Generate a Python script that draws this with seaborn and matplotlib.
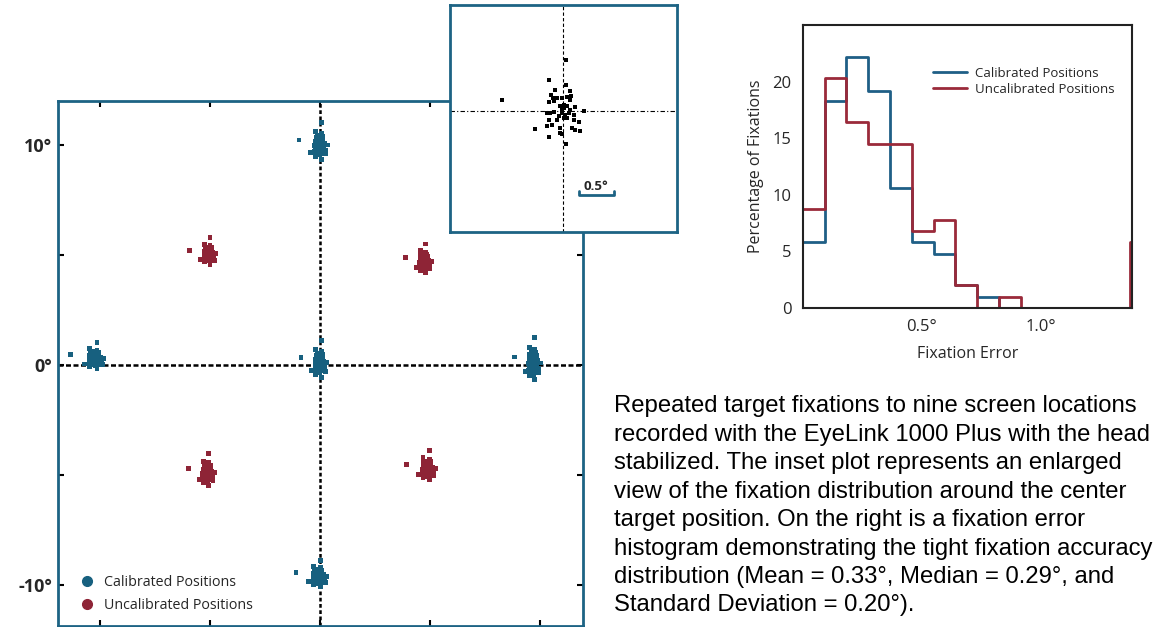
import numpy as np
import pandas as pd
import matplotlib
matplotlib.use("Agg")
import matplotlib.pyplot as plt
from matplotlib.lines import Line2D
import seaborn as sns

# fixation offsets around a target (deg)
off_x = [0.052, -0.200, 0.052, -0.105, 0.110, 0.119, -0.167, -0.138, -0.081, -0.010,
         0.062, -0.200, -0.129, -0.867, 0.014, 0.062, -0.010, 0.181, 0.300, -0.224,
         -0.176, -0.129, -0.010, 0.038, 0.086, 0.157, 0.014, 0.062, -0.200, -0.081,
         0.157, 0.229, -0.390, -0.224, -0.152, -0.033, 0.133, 0.181, 0.243, -0.033,
         -0.010, -0.200, 0.052, 0.024, -0.033, 0.100, -0.057, 0.110]
off_y = [0.719, 0.433, 0.371, 0.300, 0.276, 0.205, 0.229, 0.181, 0.181, 0.181,
         0.195, 0.119, 0.133, 0.157, 0.086, 0.062, 0.014, 0.052, -0.010, -0.033,
         -0.033, -0.024, -0.033, -0.057, -0.033, -0.057, -0.105, -0.105, -0.129, -0.129,
         -0.129, -0.167, -0.262, -0.224, -0.200, -0.248, -0.248, -0.271, -0.295, -0.310,
         -0.329, -0.376, -0.476, 0.038, 0.062, 0.157, -0.081, 0.014]

# cluster centres (deg) and spread of each cluster
clu_group = ["Calibrated Positions"] * 5 + ["Uncalibrated Positions"] * 4
clu_x = [0.0, -10.2, 0.0, 9.7, -0.05, -5.05, 4.75, -5.1, 4.9]
clu_y = [10.0, 0.3, 0.1, 0.1, -9.6, 5.05, 4.7, -4.9, -4.7]
clu_sx = [1.1, 1.3, 1.0, 1.0, 1.2, 1.0, 1.0, 1.0, 1.1]
clu_sy = [1.4, 1.0, 1.4, 1.6, 1.0, 1.0, 1.1, 1.2, 1.1]

# histogram of fixation error (percent per bin)
bin_edges = [0.0, 0.0915, 0.183, 0.2745, 0.366, 0.4575, 0.549, 0.6405, 0.732, 0.8235, 0.915,
             1.0065, 1.098, 1.1895, 1.281, 1.3725, 1.464]
calibrated_pct = [5.8, 18.3, 22.2, 19.2, 10.6, 5.8, 4.8, 2.0, 1.0, 0.0, 0, 0, 0, 0, 0, 0]
uncalibrated_pct = [8.7, 20.3, 16.4, 14.5, 14.5, 6.8, 7.8, 2.0, 0.0, 1.0, 0, 0, 0, 0, 0, 5.8]

caption = [
    "Repeated target fixations to nine screen locations",
    "recorded with the EyeLink 1000 Plus with the head",
    "stabilized. The inset plot represents an enlarged",
    "view of the fixation distribution around the center",
    "target position. On the right is a fixation error",
    "histogram demonstrating the tight fixation accuracy",
    "distribution (Mean = 0.33°, Median = 0.29°, and",
    "Standard Deviation = 0.20°).",
]

BLUE = "#17607f"
RED = "#8e2436"
SPINE = "#1d6384"

sns.set_theme(style="white")
plt.rcParams["font.family"] = ["Open Sans", "DejaVu Sans"]

rows = []
for g, cx, cy, sx, sy in zip(clu_group, clu_x, clu_y, clu_sx, clu_sy):
    for dx, dy in zip(off_x, off_y):
        rows.append((g, cx + dx * sx, cy + dy * sy))
pts = pd.DataFrame(rows, columns=["group", "x", "y"])

fig = plt.figure(figsize=(11.61, 6.27), dpi=100)

# main scatter
ax = fig.add_axes([0.0500, 0.002, 0.4522, 0.8373])
ax.axhline(0, color="black", lw=1.8, ls=(0, (2, 1)), zorder=1)
ax.axvline(0, color="black", lw=1.8, ls=(0, (1.5, 1)), zorder=1)
sns.scatterplot(data=pts, x="x", y="y", hue="group", palette=[BLUE, RED],
                marker="s", s=12, linewidth=0, legend=False, ax=ax, zorder=2)
ax.set_xlim(-11.9, 11.95)
ax.set_ylim(-11.86, 12.0)
ax.set_xticks([-10, -5, 0, 5, 10])
ax.set_xticklabels([])
ax.set_yticks([-10, -5, 0, 5, 10])
ax.set_yticklabels(["-10°", "", "0°", "", "10°"], fontweight="bold", fontsize=13)
ax.tick_params(direction="in", length=4, width=1.5, color="black",
               top=True, right=True, bottom=True, left=True, pad=4)
ax.set_xlabel("")
ax.set_ylabel("")
for s in ax.spines.values():
    s.set_color(SPINE)
    s.set_linewidth(2)
handles = [Line2D([], [], marker="o", ls="", color=BLUE, markersize=7),
           Line2D([], [], marker="o", ls="", color=RED, markersize=7)]
ax.legend(handles, ["Calibrated Positions", "Uncalibrated Positions"], loc="lower left",
          bbox_to_anchor=(0.004, 0.0), frameon=False, fontsize=10.3, handletextpad=0.2,
          labelspacing=0.55)

# inset
ins = fig.add_axes([0.3876, 0.630, 0.1955, 0.362])
ins.axhline(0, color="black", lw=0.8, ls=(0, (4, 2, 1, 2)), zorder=1)
ins.axvline(0, color="black", lw=0.8, ls=(0, (3, 2)), zorder=1)
sns.scatterplot(x=off_x, y=off_y, color="black", marker="s", s=9, linewidth=0,
                ax=ins, zorder=2)
ins.set_xlim(-1.61, 1.63)
ins.set_ylim(-1.73, 1.51)
ins.set_xticks([])
ins.set_yticks([])
for s in ins.spines.values():
    s.set_color(SPINE)
    s.set_linewidth(2)
ins.plot([0.229, 0.229, 0.729, 0.729], [-1.15, -1.2, -1.2, -1.15], color=SPINE, lw=2)
ins.text(0.479, -1.18, "0.5°", ha="center", va="bottom", fontsize=9.5, fontweight="bold")

# histogram
hx = fig.add_axes([0.6914, 0.5088, 0.2834, 0.4514])
centers = [(a + b) / 2 for a, b in zip(bin_edges[:-1], bin_edges[1:])]
sns.histplot(x=centers, weights=calibrated_pct, bins=bin_edges, element="step",
             fill=False, color="#1f5f86", linewidth=2, ax=hx)
sns.histplot(x=centers, weights=uncalibrated_pct, bins=bin_edges, element="step",
             fill=False, color="#9a2a3a", linewidth=2, ax=hx)
hx.set_xlim(0, 1.38)
hx.set_ylim(0, 25)
hx.set_xticks([0.5, 1.0])
hx.set_xticklabels(["0.5°", "1.0°"])
hx.set_yticks([0, 5, 10, 15, 20])
hx.tick_params(direction="in", length=3, width=1, labelsize=12, pad=8)
hx.set_xlabel("Fixation Error", fontsize=11.5, labelpad=8)
hx.set_ylabel("Percentage of Fixations", fontsize=11.5, labelpad=6)
for s in hx.spines.values():
    s.set_color("#222222")
    s.set_linewidth(1.5)
hx.legend([Line2D([], [], color="#1f5f86", lw=2), Line2D([], [], color="#9a2a3a", lw=2)],
          ["Calibrated Positions", "Uncalibrated Positions"], loc="upper left",
          bbox_to_anchor=(0.36, 0.895), frameon=False, fontsize=9.5, handlelength=2.6,
          handletextpad=0.6, labelspacing=0.25)

# caption
for i, line in enumerate(caption):
    fig.text(614 / 1161, 1 - (406 + 28.5 * i) / 627, line, ha="left", va="center",
             fontsize=17.2, family=["Liberation Sans", "DejaVu Sans"], color="black")

fig.savefig("out.png", dpi=100)
